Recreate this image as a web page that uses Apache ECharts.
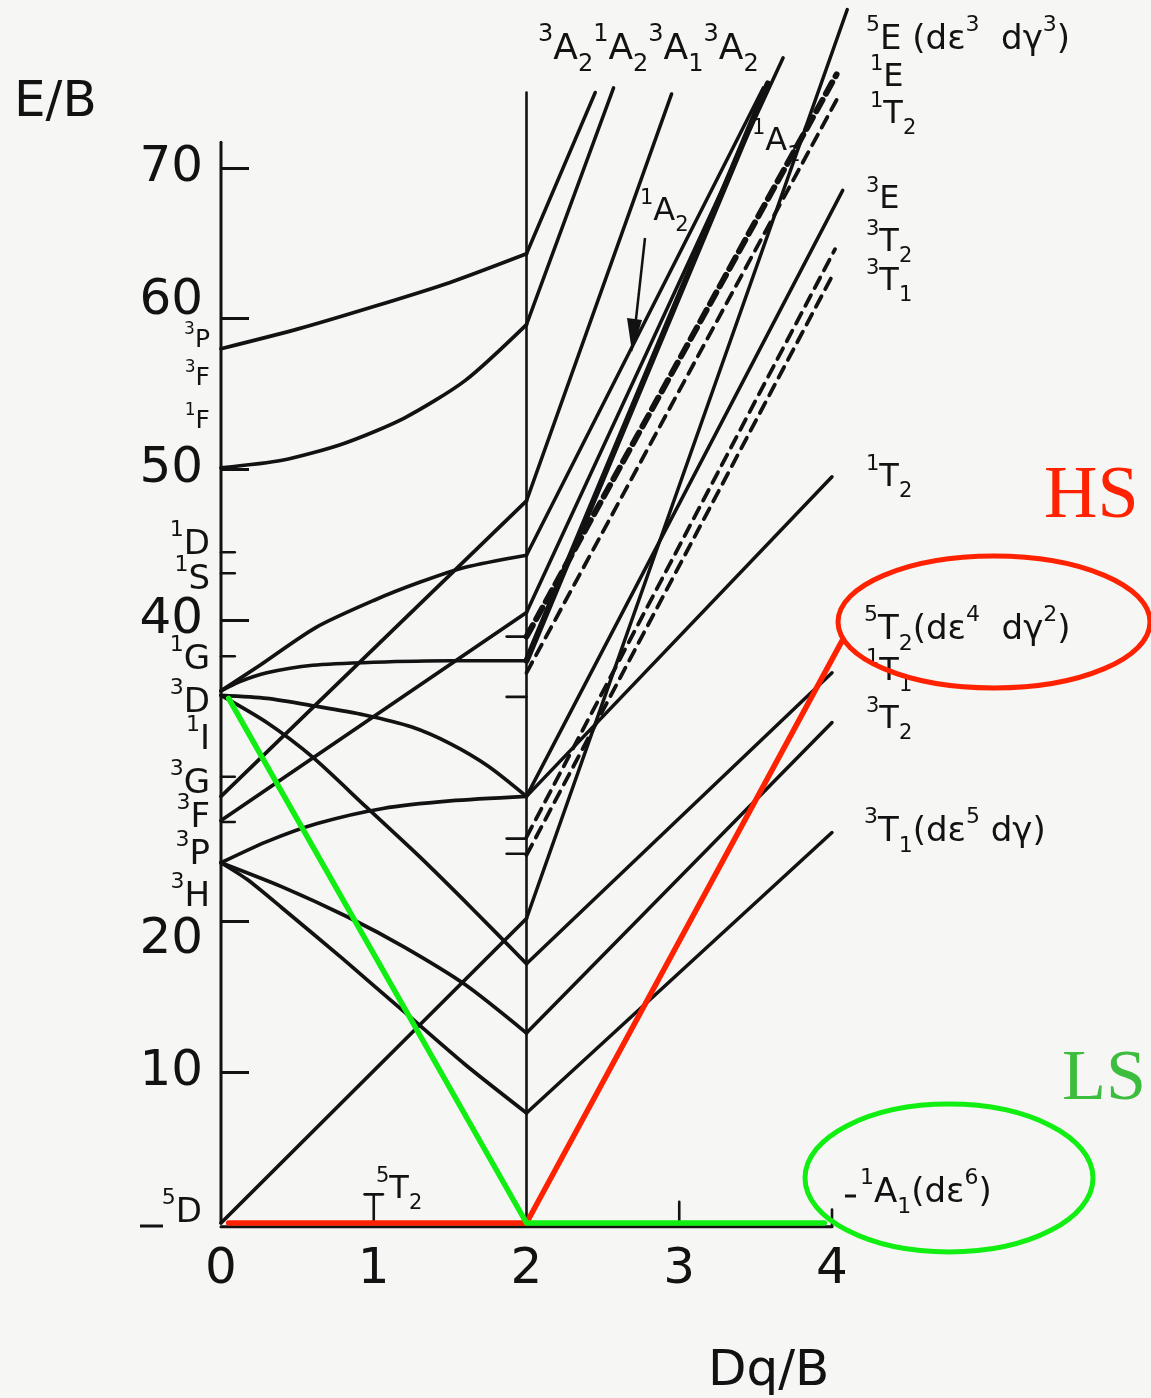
<!DOCTYPE html>
<html><head><meta charset="utf-8">
<script src="https://cdn.jsdelivr.net/npm/echarts/dist/echarts.min.js"></script>
<style>html,body{margin:0;padding:0;background:#f6f6f5}#c{width:1151px;height:1398px}</style>
</head><body><div id="c"></div><script>
// ---- axis ticks ----
const dqTicks = [0, 1, 2, 3, 4];
const eTicks = [10, 20, 40, 50, 60, 70];

// ---- weak-field branch (0 <= Dq/B <= 2), E/B relative to 5T2 ----
const w_3P_top  = [[0,58.0],[0.5,59.3],[1.0,60.8],[1.5,62.4],[2,64.3]];
const w_1F      = [[0,50.1],[0.4,50.6],[0.8,51.7],[1.2,53.4],[1.6,55.9],[2,59.6]];
const w_3D_arc  = [[0,35.3],[0.24,36.9],[0.62,39.5],[1.0,41.3],[1.3,42.5],[1.6,43.5],[2,44.3]];
const w_3D_flat = [[0,35.3],[0.12,35.9],[0.3,36.5],[0.6,37.0],[1.0,37.2],[1.5,37.3],[2,37.3]];
const w_3G_rise = [[0,28.3],[2,47.9]];
const w_3F_rise = [[0,26.7],[2,40.5]];
const w_3D_bend = [[0,35.0],[0.3,34.8],[0.61,34.3],[0.94,33.7],[1.25,32.9],[1.5,31.8],[1.75,30.3],[2,28.3]];
const w_3P_rise = [[0,23.9],[0.3,25.3],[0.63,26.5],[1.06,27.5],[1.5,28.0],[2,28.3]];
const w_3D_fall = [[0,35.0],[0.3,33.2],[0.6,30.9],[0.95,27.6],[1.3,24.3],[1.65,20.8],[2,17.2]];
const w_3H_fallA = [[0,23.9],[0.4,22.3],[0.83,20.3],[1.2,18.3],[1.6,15.8],[2,12.6]];
const w_3H_fallB = [[0,23.9],[0.17,22.8],[0.4,20.9],[0.8,17.5],[1.2,14.0],[1.6,10.5],[2,7.3]];
const w_5E      = [[0,0],[2,20.2]];

// ---- strong-field branch (2 <= Dq/B <= 4), E/B relative to 1A1 ----
const s_5T2  = [[2,0],[4.07,38.7]];
const s_3T1  = [[2,7.3],[4.0,25.9]];
const s_3T2  = [[2,12.6],[4.0,33.2]];
const s_1T1  = [[2,17.2],[4.0,36.5]];
const s_1T2  = [[2,28.3],[4.0,49.5]];
const s_3E   = [[2,28.3],[4.07,68.5]];
const s_5E   = [[2,20.2],[4.1,80.5]];
const s_3A2a = [[2,64.3],[2.45,75.0]];
const s_1A2  = [[2,59.6],[2.57,75.3]];
const s_3A1  = [[2,47.9],[2.95,74.9]];
const s_3A2b = [[2,44.3],[3.55,75.3]];
const s_1A1  = [[2,40.5],[3.68,77.3]];
const s_bold = [[2,37.3],[3.58,75.6]];
// dashed strong-field states
const d_1E   = [[2,38.9],[4.03,76.2]];
const d_1T2  = [[2,36.5],[4.03,74.5]];
const d_3T2  = [[2,25.6],[4.02,64.6]];
const d_3T1  = [[2,24.4],[4.0,62.8]];

// ---- highlighted spin-state paths ----
const hsPath = [[0.05,0],[2,0],[4.07,38.7]];
const lsPath = [[0.05,34.8],[2,0],[3.95,0]];

// ---- frame marks ----
const leftAxisTop = 71.7;
const midLineTop = 75;
const termTickE = [44.5, 43.1, 37.6, 29.6, 26.6];
const midTickE = [38.9, 34.9, 25.5, 24.5];

const INK = '#121212';
const FONT = 'DejaVu Sans';

function ln(data, w, opt) {
  opt = opt || {};
  return {
    type: 'line', data: data, showSymbol: false, symbol: 'none', silent: true,
    smooth: opt.smooth || false, z: opt.z || 2, clip: false,
    lineStyle: { color: opt.color || INK, width: w, type: opt.dash || 'solid', cap: 'round', join: 'round' }
  };
}

const series = [];
// frame
series.push(ln([[0,0],[0,leftAxisTop]], 3));
series.push(ln([[2,0],[2,midLineTop]], 2.6));
series.push(ln([[0,-0.25],[4,-0.25]], 3));
series.push(ln([[1,0],[1,1.9]], 2.6));
series.push(ln([[0.94,1.9],[1.06,1.9]], 2.6));
series.push(ln([[3,0],[3,1.4]], 2.6));
series.push(ln([[4,-0.25],[4,0.9]], 2.6));
termTickE.forEach(e => series.push(ln([[0,e],[0.09,e]], 2.6)));
midTickE.forEach(e => series.push(ln([[1.87,e],[2,e]], 2.6)));

// weak field curves
[w_3P_top, w_1F, w_3D_arc, w_3D_flat, w_3D_bend, w_3P_rise, w_3D_fall, w_3H_fallA, w_3H_fallB]
  .forEach(d => series.push(ln(d, 3.7, { smooth: 0.25 })));
[w_3G_rise, w_3F_rise, w_5E].forEach(d => series.push(ln(d, 3.7)));

// strong field solid lines
[s_5T2, s_3T1, s_3T2, s_1T1, s_1T2, s_3E, s_5E, s_3A2a, s_1A2, s_3A1, s_3A2b, s_1A1]
  .forEach(d => series.push(ln(d, 3.5)));
series.push(ln(s_bold, 6));
// dashed
series.push(ln(d_1E, 6, { dash: [13, 7] }));
[d_1T2, d_3T2, d_3T1].forEach(d => series.push(ln(d, 3.8, { dash: [12, 8] })));

// highlighted paths
series.push(ln(hsPath, 5.5, { color: '#ff2200', z: 10 }));
series.push(ln(lsPath, 5.5, { color: '#11ee11', z: 11 }));

// ---- text helpers ----
function rich(fs) {
  const sm = Math.round(fs * 0.66);
  return {
    b: { fontFamily: FONT, fontSize: fs, lineHeight: Math.round(fs * 1.5), verticalAlign: 'middle', fill: INK },
    p: { fontFamily: FONT, fontSize: sm, lineHeight: sm, verticalAlign: 'top', fill: INK },
    s: { fontFamily: FONT, fontSize: sm, lineHeight: sm, verticalAlign: 'bottom', fill: INK }
  };
}
function mk(str) {
  let out = '', buf = '';
  for (let i = 0; i < str.length; i++) {
    const c = str[i];
    if (c === '^' || c === '_') {
      if (buf) { out += '{b|' + buf + '}'; buf = ''; }
      out += '{' + (c === '^' ? 'p' : 's') + '|' + str[i + 1] + '}';
      i++;
    } else buf += c;
  }
  if (buf) out += '{b|' + buf + '}';
  return out;
}
function txt(str, x, y, fs, align) {
  return { type: 'text', x: x, y: y, z: 50, silent: true,
    style: { text: mk(str), rich: rich(fs), align: align || 'left', verticalAlign: 'middle' } };
}

const graphics = [
  // left term symbols
  txt('^3P', 210, 340, 25, 'right'), txt('^3F', 210, 378, 25, 'right'), txt('^1F', 210, 421, 25, 'right'),
  txt('^1D', 210, 545, 34, 'right'), txt('^1S', 210, 580, 34, 'right'), txt('^1G', 210, 660, 34, 'right'),
  txt('^3D', 210, 703, 34, 'right'), txt('^1I', 210, 740, 34, 'right'), txt('^3G', 210, 784, 34, 'right'),
  txt('^3F', 210, 818, 34, 'right'), txt('^3P', 210, 855, 34, 'right'), txt('^3H', 210, 897, 34, 'right'),
  txt('^5D', 202, 1213, 34, 'right'),
  // right term symbols
  txt('^5E (dε^3  dγ^3)', 866, 40, 34), txt('^1E', 870, 78, 32), txt('^1T_2', 870, 115, 32),
  txt('^3E', 866, 200, 32), txt('^3T_2', 866, 243, 32), txt('^3T_1', 866, 282, 32),
  txt('^1T_2', 866, 478, 32),
  txt('^5T_2(dε^4  dγ^2)', 864, 630, 34), txt('^1T_1', 866, 672, 32), txt('^3T_2', 866, 720, 32),
  txt('^3T_1(dε^5 dγ)', 864, 832, 34),
  txt('^1A_1(dε^6)', 860, 1193, 34),
  // top & inner
  txt('^3A_2^1A_2^3A_1^3A_2', 538, 50, 36),
  txt('^1A_1', 752, 142, 32), txt('^1A_2', 640, 212, 32), txt('^5T_2', 376, 1190, 32),
  // axis names
  { type: 'text', x: 14, y: 103, z: 50, silent: true, style: { text: 'E/B', fontFamily: FONT, fontSize: 50, fill: INK, verticalAlign: 'middle' } },
  { type: 'text', x: 708, y: 1372, z: 50, silent: true, style: { text: 'Dq/B', fontFamily: FONT, fontSize: 50, fill: INK, verticalAlign: 'middle' } },
  // small dashes
  { type: 'line', z: 50, silent: true, shape: { x1: 140, y1: 1226, x2: 163, y2: 1226 }, style: { stroke: INK, lineWidth: 3 } },
  { type: 'line', z: 50, silent: true, shape: { x1: 845, y1: 1196, x2: 856, y2: 1196 }, style: { stroke: INK, lineWidth: 3 } },
  // 1A2 arrow
  { type: 'line', z: 50, silent: true, shape: { x1: 645, y1: 238, x2: 635, y2: 328 }, style: { stroke: INK, lineWidth: 2.5 } },
  { type: 'polygon', z: 50, silent: true, shape: { points: [[627, 318], [642, 320], [632, 352]] }, style: { fill: INK } },
  // HS / LS annotations
  { type: 'text', x: 1044, y: 498, z: 60, silent: true, style: { text: 'HS', fontFamily: 'Liberation Serif', fontSize: 74, fill: '#ff2200', verticalAlign: 'middle' } },
  { type: 'text', x: 1062, y: 1080, z: 60, silent: true, style: { text: 'LS', fontFamily: 'Liberation Serif', fontSize: 72, fill: '#3dbd3d', verticalAlign: 'middle' } },
  { type: 'ellipse', z: 60, silent: true, shape: { cx: 994, cy: 622, rx: 156, ry: 66 }, style: { fill: 'none', stroke: '#ff2200', lineWidth: 5 } },
  { type: 'ellipse', z: 60, silent: true, shape: { cx: 949, cy: 1178, rx: 144, ry: 74 }, style: { fill: 'none', stroke: '#11ee11', lineWidth: 5 } }
];

const chart = echarts.init(document.getElementById('c'), null, { renderer: 'canvas' });
chart.setOption({
  animation: false,
  backgroundColor: '#f6f6f5',
  grid: { left: 221, right: 288.45, top: 2, bottom: 175, containLabel: false },
  xAxis: {
    type: 'value', min: 0, max: 4.2,
    axisLine: { show: false }, axisTick: { show: false }, splitLine: { show: false },
    axisLabel: { customValues: dqTicks, fontFamily: FONT, fontSize: 50, color: INK, margin: 22 }
  },
  yAxis: {
    type: 'value', min: 0, max: 81,
    axisLine: { show: false }, splitLine: { show: false },
    axisTick: { show: true, inside: true, length: 28, customValues: eTicks, lineStyle: { color: INK, width: 3 } },
    axisLabel: {
      customValues: eTicks, margin: 18, color: INK,
      formatter: v => v === 60 ? '{u|60}' : (v === 20 ? '{d|20}' : '{n|' + v + '}'),
      rich: {
        n: { fontFamily: FONT, fontSize: 50, color: INK },
        u: { fontFamily: FONT, fontSize: 50, color: INK, padding: [0, 0, 36, 0] },
        d: { fontFamily: FONT, fontSize: 50, color: INK, padding: [36, 0, 0, 0] }
      }
    }
  },
  series: series,
  graphic: graphics
});
</script></body></html>
